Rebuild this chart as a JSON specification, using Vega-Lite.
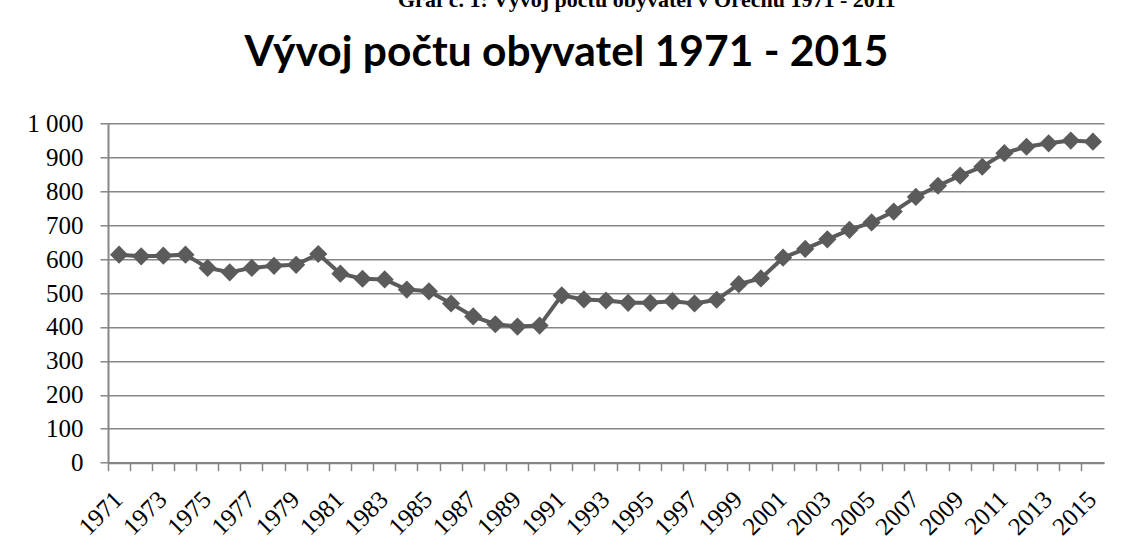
{
  "$schema": "https://vega.github.io/schema/vega-lite/v6.json",
  "width": 996,
  "height": 339.4,
  "autosize": {"type": "none"},
  "padding": {"left": 108, "top": 123.3, "right": 25, "bottom": 87.3},
  "background": "white",
  "title": {
    "text": "Graf č. 1: Vývoj počtu obyvatel v Ořechu 1971 - 2011",
    "font": "Liberation Serif",
    "fontSize": 22,
    "fontWeight": "bold",
    "color": "black",
    "anchor": "start",
    "frame": "group",
    "dx": 290,
    "baseline": "alphabetic",
    "offset": 2
  },
  "data": {
    "values": [
      {"year": 1971, "population": 613},
      {"year": 1972, "population": 608},
      {"year": 1973, "population": 610},
      {"year": 1974, "population": 613},
      {"year": 1975, "population": 574},
      {"year": 1976, "population": 561},
      {"year": 1977, "population": 574},
      {"year": 1978, "population": 580},
      {"year": 1979, "population": 583},
      {"year": 1980, "population": 615},
      {"year": 1981, "population": 557},
      {"year": 1982, "population": 542},
      {"year": 1983, "population": 540},
      {"year": 1984, "population": 510},
      {"year": 1985, "population": 505},
      {"year": 1986, "population": 469},
      {"year": 1987, "population": 431},
      {"year": 1988, "population": 408},
      {"year": 1989, "population": 401},
      {"year": 1990, "population": 404},
      {"year": 1991, "population": 493},
      {"year": 1992, "population": 481},
      {"year": 1993, "population": 478},
      {"year": 1994, "population": 471},
      {"year": 1995, "population": 471},
      {"year": 1996, "population": 476},
      {"year": 1997, "population": 469},
      {"year": 1998, "population": 480},
      {"year": 1999, "population": 526},
      {"year": 2000, "population": 543},
      {"year": 2001, "population": 604},
      {"year": 2002, "population": 630},
      {"year": 2003, "population": 658},
      {"year": 2004, "population": 686},
      {"year": 2005, "population": 708},
      {"year": 2006, "population": 740},
      {"year": 2007, "population": 783},
      {"year": 2008, "population": 816},
      {"year": 2009, "population": 846},
      {"year": 2010, "population": 872},
      {"year": 2011, "population": 912},
      {"year": 2012, "population": 931},
      {"year": 2013, "population": 941},
      {"year": 2014, "population": 949},
      {"year": 2015, "population": 946}
    ]
  },
  "mark": {
    "type": "line",
    "color": "#5b5b5b",
    "strokeWidth": 4,
    "point": {"shape": "diamond", "size": 330, "filled": true, "color": "#5b5b5b", "opacity": 1}
  },
  "encoding": {
    "x": {
      "field": "year",
      "type": "ordinal",
      "scale": {"type": "band", "paddingInner": 0, "paddingOuter": 0},
      "axis": {
        "title": null,
        "bandPosition": 0,
        "labelAngle": -45,
        "labelAlign": "right",
        "labelBaseline": "alphabetic",
        "labelOffset": 5,
        "labelExpr": "datum.value % 2 == 1 ? datum.label : ''",
        "labelOverlap": false,
        "labelFont": "Liberation Serif",
        "labelFontSize": 25,
        "labelColor": "black",
        "labelPadding": 30,
        "tickSize": 8,
        "tickColor": "#868686",
        "tickWidth": 1.5,
        "domainColor": "#868686",
        "domainWidth": 2,
        "grid": false
      }
    },
    "y": {
      "field": "population",
      "type": "quantitative",
      "scale": {"domain": [0, 1000], "nice": false},
      "axis": {
        "title": "Vývoj počtu obyvatel 1971 - 2015",
        "titleAngle": 0,
        "titleX": 458,
        "titleY": -58.3,
        "titleAlign": "center",
        "titleBaseline": "alphabetic",
        "titleFont": "Lato",
        "titleFontSize": 42.5,
        "titleFontWeight": "bold",
        "titleColor": "black",
        "values": [0, 100, 200, 300, 400, 500, 600, 700, 800, 900, 1000],
        "labelExpr": "datum.value == 1000 ? '1 000' : datum.label",
        "labelFont": "Liberation Serif",
        "labelFontSize": 25,
        "labelColor": "black",
        "labelPadding": 17,
        "tickSize": 8,
        "tickColor": "#868686",
        "tickWidth": 1.5,
        "domainColor": "#868686",
        "domainWidth": 2,
        "grid": true,
        "gridColor": "#868686",
        "gridWidth": 1.5
      }
    }
  },
  "config": {"view": {"stroke": null}}
}
